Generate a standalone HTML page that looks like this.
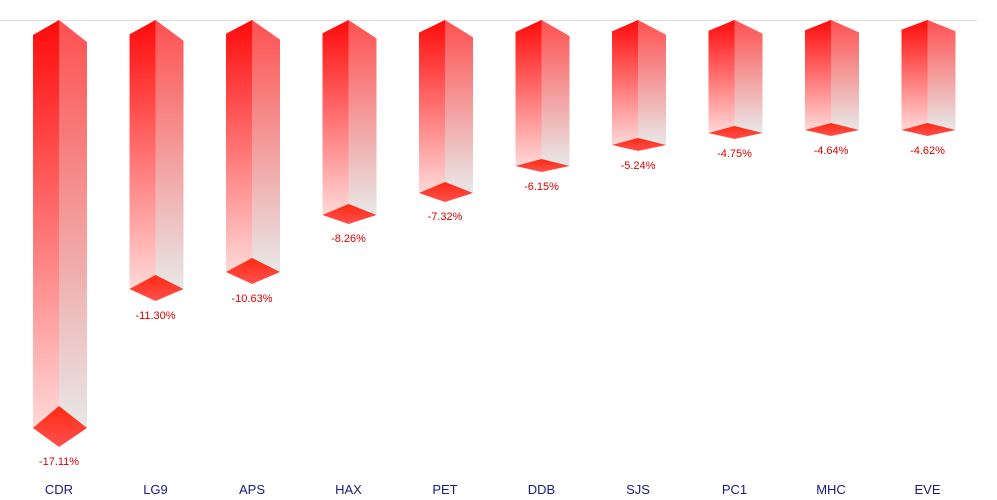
<!DOCTYPE html>
<html><head><style>body{margin:0;background:#fff}svg{display:block}</style></head><body>
<svg width="997" height="500" xmlns="http://www.w3.org/2000/svg" font-family="Liberation Sans, sans-serif">
<defs>
<linearGradient id="lf" x1="0" y1="0" x2="0" y2="1"><stop offset="0" stop-color="#ff0a0a"/><stop offset="1" stop-color="#ffd8d8"/></linearGradient>
<linearGradient id="rf" x1="0" y1="0" x2="0" y2="1"><stop offset="0" stop-color="#ff5050"/><stop offset="1" stop-color="#e8e8e8"/></linearGradient>
<linearGradient id="dm" x1="0" y1="0" x2="0" y2="1"><stop offset="0" stop-color="#ff2a10"/><stop offset="1" stop-color="#ff5050"/></linearGradient>
</defs>
<line x1="0" y1="20.5" x2="977" y2="20.5" stroke="#dcdcdc"/>
<g id="bars"></g>
</svg>
<script>
var d=[["CDR",428,"-17.11%"],["LG9",289,"-11.30%"],["APS",272,"-10.63%"],["HAX",215,"-8.26%"],["PET",193,"-7.32%"],["DDB",166,"-6.15%"],["SJS",145,"-5.24%"],["PC1",133,"-4.75%"],["MHC",130,"-4.64%"],["EVE",130,"-4.62%"]];
var g=document.getElementById("bars"),s="";
d.forEach(function(b,i){
var cx=59+i*96.5,yb=b[1],ld=15-i*0.6,rd=22-i*1.2;
s+='<polygon points="'+(cx-26)+','+(20+ld)+' '+cx+',20 '+cx+','+yb+' '+(cx-26)+','+yb+'" fill="url(#lf)"/>';
s+='<polygon points="'+cx+',20 '+(cx+28)+','+(20+rd)+' '+(cx+28)+','+yb+' '+cx+','+yb+'" fill="url(#rf)"/>';
var t=i==0?22:(yb>250?14:(yb>180?11:7)),bt=i==0?19:(yb>250?12:(yb>180?9:6));
s+='<polygon points="'+(cx-26)+','+yb+' '+cx+','+(yb-t)+' '+(cx+28)+','+yb+' '+cx+','+(yb+bt)+'" fill="url(#dm)"/>';
s+='<text x="'+cx+'" y="'+(yb+bt+18)+'" font-size="11" fill="#e00000" text-anchor="middle">'+b[2]+'</text>';
s+='<text x="'+cx+'" y="494" font-size="13" fill="#1a1a80" text-anchor="middle">'+b[0]+'</text>';
});
g.innerHTML=s;
</script>
</body></html>
